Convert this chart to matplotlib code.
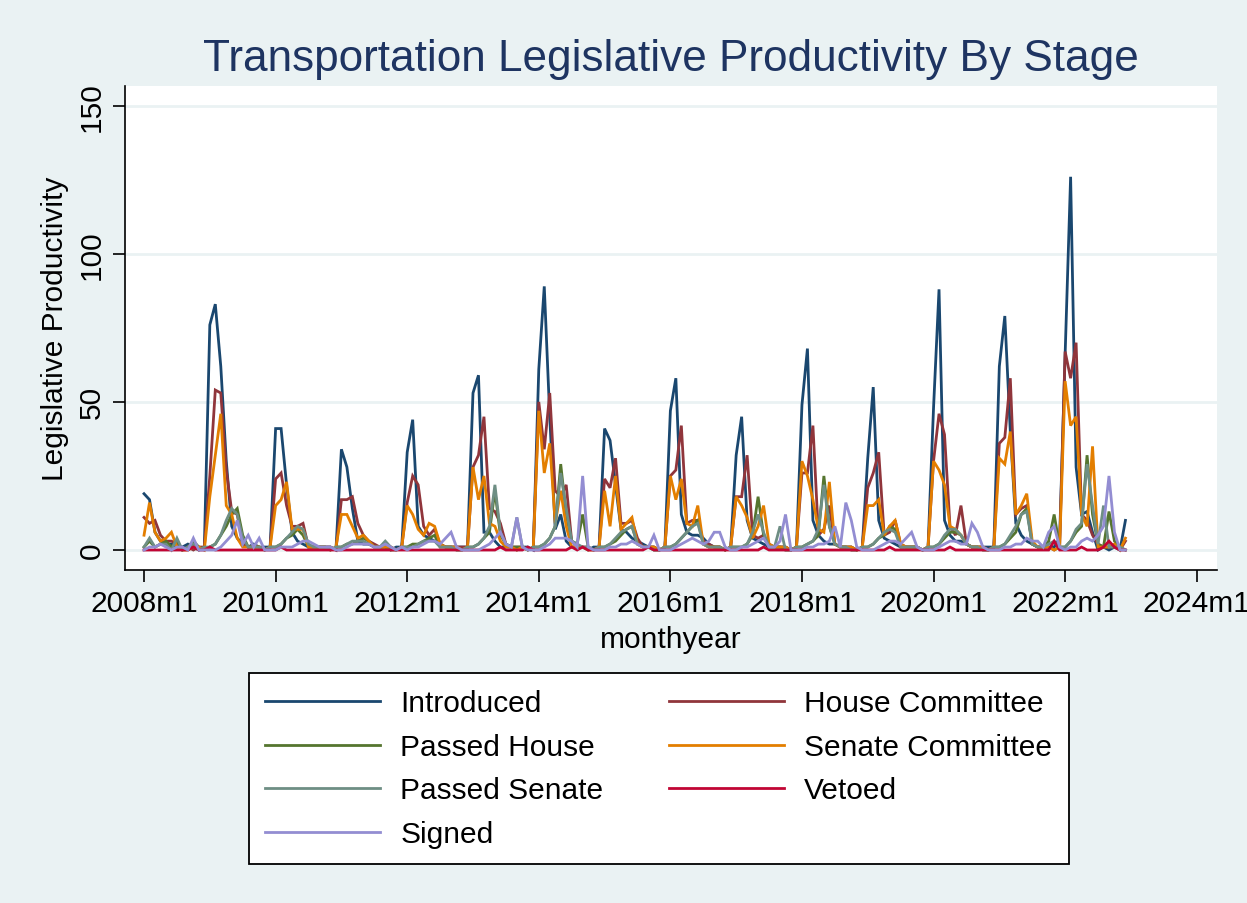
import numpy as np
import matplotlib
matplotlib.use("Agg")
import matplotlib.pyplot as plt

plt.rcParams['font.family'] = ['Liberation Sans', 'DejaVu Sans']

# monthly counts, one row per year (2008 .. 2022), Jan..Dec
introduced = [
    [19, 17, 6, 3, 2, 2, 1, 1, 2, 1, 0, 1],
    [76, 83, 62, 30, 8, 4, 2, 1, 2, 1, 1, 1],
    [41, 41, 22, 6, 3, 2, 1, 1, 1, 1, 1, 0],
    [34, 28, 14, 3, 2, 2, 1, 1, 1, 0, 1, 1],
    [33, 44, 8, 5, 4, 3, 2, 1, 1, 1, 1, 1],
    [53, 59, 6, 6, 3, 1, 1, 1, 0, 1, 1, 0],
    [61, 89, 45, 7, 12, 3, 1, 1, 1, 0, 1, 1],
    [41, 37, 22, 7, 6, 4, 3, 2, 1, 1, 0, 1],
    [47, 58, 12, 6, 5, 5, 4, 2, 1, 1, 0, 1],
    [32, 45, 10, 4, 3, 2, 1, 1, 1, 1, 0, 1],
    [49, 68, 10, 5, 3, 2, 2, 1, 1, 1, 0, 1],
    [31, 55, 10, 4, 3, 2, 1, 1, 1, 1, 0, 1],
    [48, 88, 10, 5, 3, 3, 2, 1, 1, 1, 1, 1],
    [62, 79, 40, 9, 5, 3, 2, 1, 1, 1, 1, 4],
    [66, 126, 28, 12, 13, 6, 0, 1, 0, 1, 0, 10],
]
house_comm = [
    [11, 9, 10, 5, 3, 3, 2, 0, 1, 0, 1, 1],
    [25, 54, 53, 27, 13, 12, 2, 1, 1, 1, 0, 1],
    [24, 26, 15, 8, 8, 9, 1, 1, 1, 1, 1, 0],
    [17, 17, 18, 9, 5, 3, 2, 1, 1, 1, 0, 1],
    [16, 25, 22, 8, 5, 7, 2, 1, 1, 1, 1, 1],
    [28, 32, 45, 14, 13, 9, 2, 1, 1, 1, 0, 1],
    [50, 34, 53, 20, 18, 22, 3, 1, 1, 1, 0, 1],
    [24, 21, 31, 9, 9, 10, 4, 1, 1, 1, 0, 1],
    [25, 27, 42, 9, 10, 10, 3, 2, 1, 1, 0, 1],
    [18, 18, 32, 5, 4, 5, 2, 1, 1, 1, 0, 1],
    [26, 26, 42, 5, 7, 15, 2, 1, 1, 1, 0, 1],
    [21, 26, 33, 5, 6, 10, 2, 1, 1, 1, 0, 1],
    [30, 46, 39, 8, 5, 15, 2, 1, 1, 1, 0, 1],
    [36, 38, 58, 12, 14, 15, 2, 1, 1, 1, 0, 1],
    [67, 58, 70, 12, 10, 5, 2, 1, 1, 1, 0, 3],
]
passed_house = [
    [1, 3, 1, 2, 3, 1, 3, 0, 1, 3, 1, 0],
    [1, 2, 5, 8, 12, 14, 5, 1, 1, 1, 0, 1],
    [1, 2, 4, 5, 7, 5, 1, 1, 1, 1, 0, 1],
    [1, 2, 2, 3, 4, 3, 1, 1, 1, 0, 0, 1],
    [1, 2, 2, 3, 4, 5, 1, 1, 1, 0, 0, 1],
    [1, 2, 4, 6, 20, 5, 2, 1, 1, 1, 0, 1],
    [1, 2, 4, 8, 29, 12, 3, 2, 12, 1, 0, 1],
    [1, 2, 3, 5, 7, 8, 2, 1, 1, 0, 0, 1],
    [1, 2, 4, 6, 8, 10, 2, 1, 1, 1, 0, 1],
    [1, 1, 2, 5, 18, 5, 1, 1, 1, 0, 0, 1],
    [1, 2, 3, 5, 25, 8, 2, 1, 1, 0, 0, 1],
    [1, 2, 4, 5, 8, 7, 1, 1, 1, 1, 0, 1],
    [1, 2, 4, 6, 6, 5, 2, 1, 1, 0, 0, 1],
    [1, 2, 4, 6, 12, 14, 2, 1, 1, 3, 12, 1],
    [1, 3, 6, 8, 32, 12, 2, 1, 13, 3, 1, 0],
]
senate_comm = [
    [5, 16, 6, 3, 4, 6, 1, 0, 0, 1, 1, 0],
    [18, 32, 46, 15, 12, 4, 1, 1, 1, 1, 0, 1],
    [15, 17, 23, 7, 7, 7, 1, 1, 1, 1, 0, 1],
    [12, 12, 8, 4, 5, 3, 1, 1, 1, 1, 0, 1],
    [15, 12, 7, 5, 9, 8, 2, 1, 1, 1, 0, 1],
    [28, 17, 25, 9, 8, 3, 1, 1, 0, 1, 0, 1],
    [47, 26, 36, 9, 20, 8, 1, 1, 1, 0, 0, 1],
    [20, 8, 25, 7, 9, 11, 2, 1, 1, 1, 0, 1],
    [25, 17, 24, 9, 8, 15, 2, 1, 1, 1, 0, 1],
    [18, 15, 11, 4, 8, 15, 2, 1, 1, 1, 0, 1],
    [30, 25, 17, 7, 6, 23, 2, 1, 1, 1, 0, 1],
    [15, 15, 17, 5, 8, 10, 2, 1, 1, 1, 0, 1],
    [30, 27, 22, 8, 7, 5, 2, 1, 1, 1, 0, 1],
    [31, 29, 40, 12, 15, 19, 3, 1, 1, 1, 0, 1],
    [57, 42, 45, 12, 8, 35, 1, 1, 1, 2, 0, 4],
]
passed_senate = [
    [1, 4, 1, 2, 2, 0, 4, 0, 1, 2, 0, 1],
    [1, 2, 5, 10, 14, 12, 4, 1, 1, 1, 0, 1],
    [1, 2, 4, 6, 8, 7, 2, 1, 1, 1, 0, 1],
    [1, 2, 3, 3, 3, 2, 1, 1, 3, 1, 0, 1],
    [1, 1, 2, 3, 3, 3, 1, 1, 1, 0, 0, 1],
    [1, 2, 4, 8, 22, 6, 2, 1, 11, 1, 0, 1],
    [1, 2, 4, 8, 26, 14, 3, 2, 1, 1, 0, 1],
    [1, 2, 4, 6, 7, 8, 2, 1, 1, 0, 0, 1],
    [1, 2, 4, 6, 8, 9, 2, 1, 1, 1, 0, 1],
    [1, 1, 2, 6, 12, 6, 1, 1, 8, 0, 0, 1],
    [1, 2, 3, 7, 22, 8, 2, 1, 1, 0, 0, 1],
    [1, 2, 4, 6, 7, 6, 1, 1, 1, 1, 0, 1],
    [1, 2, 5, 7, 7, 5, 2, 1, 1, 0, 0, 1],
    [1, 2, 5, 8, 12, 13, 2, 1, 1, 2, 3, 1],
    [1, 3, 7, 9, 29, 15, 2, 15, 1, 1, 1, 0],
]
vetoed = [
    [0, 0, 0, 0, 0, 0, 0, 0, 0, 1, 0, 0],
    [1, 0, 0, 0, 0, 0, 0, 0, 0, 0, 0, 0],
    [0, 1, 0, 0, 0, 0, 0, 0, 0, 0, 0, 0],
    [0, 0, 0, 0, 0, 0, 0, 0, 0, 0, 0, 0],
    [0, 0, 0, 0, 0, 0, 0, 0, 0, 0, 0, 0],
    [0, 0, 0, 0, 0, 1, 0, 0, 0, 0, 1, 0],
    [0, 0, 0, 0, 0, 0, 1, 0, 1, 0, 0, 0],
    [0, 0, 0, 0, 0, 0, 0, 0, 1, 0, 0, 0],
    [0, 0, 0, 0, 0, 0, 0, 0, 0, 0, 0, 0],
    [0, 0, 0, 0, 0, 1, 0, 0, 0, 0, 0, 0],
    [0, 0, 0, 0, 0, 0, 0, 0, 0, 0, 0, 0],
    [0, 0, 0, 0, 1, 0, 0, 0, 0, 0, 0, 0],
    [0, 0, 0, 1, 0, 0, 0, 0, 0, 0, 0, 0],
    [0, 0, 0, 0, 0, 0, 0, 0, 0, 0, 3, 0],
    [0, 0, 0, 1, 0, 0, 0, 1, 3, 1, 0, 0],
]
signed = [
    [0, 1, 1, 2, 1, 0, 1, 1, 0, 4, 0, 0],
    [0, 0, 1, 3, 5, 10, 2, 5, 1, 4, 0, 0],
    [0, 1, 1, 1, 2, 3, 3, 2, 1, 1, 1, 0],
    [0, 1, 2, 2, 2, 2, 1, 1, 2, 1, 0, 1],
    [0, 1, 1, 2, 3, 3, 2, 4, 6, 1, 0, 0],
    [0, 0, 1, 2, 4, 6, 2, 1, 11, 1, 0, 0],
    [0, 1, 2, 4, 4, 4, 3, 1, 25, 1, 0, 0],
    [0, 1, 1, 2, 2, 3, 2, 1, 1, 5, 0, 0],
    [0, 1, 2, 3, 4, 3, 2, 3, 6, 6, 1, 0],
    [0, 1, 1, 2, 3, 4, 1, 1, 3, 12, 0, 0],
    [0, 1, 1, 2, 2, 3, 8, 1, 16, 10, 1, 0],
    [0, 0, 1, 2, 3, 3, 2, 4, 6, 1, 0, 0],
    [0, 1, 2, 3, 3, 2, 2, 9, 6, 1, 0, 0],
    [0, 1, 1, 2, 2, 4, 3, 3, 1, 6, 8, 1],
    [0, 1, 1, 3, 4, 3, 5, 8, 25, 6, 0, 0],
]

series = [
    ("Introduced", introduced, "#1a476f"),
    ("House Committee", house_comm, "#90353b"),
    ("Passed House", passed_house, "#55752f"),
    ("Senate Committee", senate_comm, "#e37e00"),
    ("Passed Senate", passed_senate, "#6e8e84"),
    ("Vetoed", vetoed, "#c10534"),
    ("Signed", signed, "#938dd2"),
]

start_year = 2008
months = np.arange(len(introduced) * 12)  # months since 2008m1

bg = "#eaf2f3"
fs = 21.5

fig = plt.figure(figsize=(12.47, 9.04), dpi=100, facecolor=bg)
ax = fig.add_axes([125 / 1247, 1 - 571 / 904, (1217 - 125) / 1247, (571 - 87) / 904])
ax.set_facecolor("white")

lines = {}
for name, rows, col in series:
    y = np.concatenate([np.array(r, dtype=float) for r in rows])
    ln, = ax.plot(months, y, color=col, lw=2.0, solid_joinstyle="miter", label=name)
    lines[name] = ln

ax.set_xlim(-3.47, 195.7)
ax.set_ylim(-6.75, 156.65)

xt = np.arange(0, 193, 24)
ax.set_xticks(xt)
ax.set_xticklabels([f"{start_year + t // 12}m1" for t in xt])
ax.set_yticks([0, 50, 100, 150])
ax.set_yticklabels(["0", "50", "100", "150"], rotation=90, va="center")

ax.grid(axis="y", color=bg, lw=2)
ax.set_axisbelow(True)
for s in ["top", "right"]:
    ax.spines[s].set_visible(False)
for s in ["left", "bottom"]:
    ax.spines[s].set_linewidth(1.2)
ax.tick_params(axis="both", labelsize=fs, length=8.5, width=1.2, direction="out", pad=5)

ax.set_title("Transportation Legislative Productivity By Stage", fontsize=31.8,
             color="#1e3461", pad=11.5)
ax.set_xlabel("monthyear", fontsize=fs, labelpad=6)
ax.set_ylabel("Legislative Productivity", fontsize=fs, labelpad=7)

order = ["Introduced", "Passed House", "Passed Senate", "Signed",
         "House Committee", "Senate Committee", "Vetoed"]
leg = fig.legend([lines[n] for n in order], order, ncol=2,
                 loc="upper left", bbox_to_anchor=(249 / 1247, 1 - 674 / 904),
                 bbox_transform=fig.transFigure, fontsize=fs,
                 frameon=True, fancybox=False, shadow=False, framealpha=1,
                 edgecolor="black", facecolor="white",
                 handlelength=3.85, handletextpad=0.67, columnspacing=2.2,
                 borderpad=0.55, labelspacing=0.52, borderaxespad=0)
leg.get_frame().set_linewidth(1.3)

fig.savefig("out.png", dpi=100, facecolor=bg)
